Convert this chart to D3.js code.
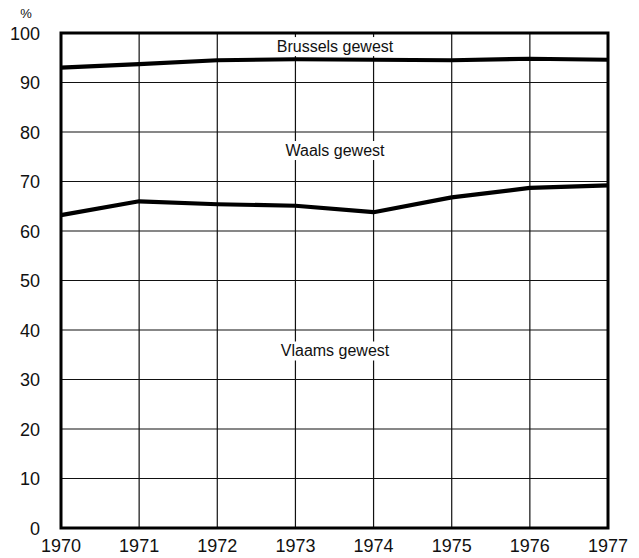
<!DOCTYPE html>
<html><head><meta charset="utf-8">
<script src="https://cdn.jsdelivr.net/npm/d3@7"></script>
<style>body{margin:0;background:#fff}svg{display:block}text{font-family:"Liberation Sans",Arial,sans-serif;fill:#111}</style>
</head><body><svg id="c" width="639" height="558"></svg>
<script>
const years = [1970,1971,1972,1973,1974,1975,1976,1977];
const brussels = [93.0,93.7,94.5,94.7,94.6,94.5,94.8,94.6];
const waals = [63.2,66.0,65.4,65.1,63.8,66.8,68.7,69.2];
const yTicks = [0,10,20,30,40,50,60,70,80,90,100];
const regionLabels = [{name:"Brussels gewest", v:97.0},{name:"Waals gewest", v:76.0},{name:"Vlaams gewest", v:35.5}];

const svg = d3.select("#c");
const x = d3.scaleLinear().domain([1970,1977]).range([61,608]);
const y = d3.scaleLinear().domain([0,100]).range([528,33]);

// grid
svg.append("g").selectAll("line").data(years).join("line")
  .attr("x1",d=>x(d)).attr("x2",d=>x(d)).attr("y1",y(100)).attr("y2",y(0))
  .attr("stroke","#111").attr("stroke-width",1.2);
svg.append("g").selectAll("line").data(yTicks).join("line")
  .attr("y1",d=>y(d)).attr("y2",d=>y(d)).attr("x1",x(1970)).attr("x2",x(1977))
  .attr("stroke","#111").attr("stroke-width",1.2);

// labels with white background
const lab = svg.append("g").selectAll("g").data(regionLabels).join("g");
lab.each(function(d){
  const g = d3.select(this);
  const t = g.append("text").attr("x",335).attr("y",y(d.v)).attr("text-anchor","middle")
    .attr("dominant-baseline","middle").attr("font-size",16).text(d.name);
  const b = t.node().getBBox();
  g.insert("rect","text").attr("x",b.x-4).attr("y",b.y-1).attr("width",b.width+8).attr("height",b.height+2).attr("fill","#fff");
});

// lines
const line = d3.line().x((d,i)=>x(years[i])).y(d=>y(d));
[brussels,waals].forEach(s=>{
  svg.append("path").datum(s).attr("d",line).attr("fill","none").attr("stroke","#000")
    .attr("stroke-width",4.2).attr("stroke-linejoin","round");
});

// frame
svg.append("rect").attr("x",x(1970)).attr("y",y(100)).attr("width",x(1977)-x(1970)).attr("height",y(0)-y(100))
  .attr("fill","none").attr("stroke","#000").attr("stroke-width",3);

// axis labels
svg.append("g").selectAll("text").data(yTicks).join("text")
  .attr("x",40).attr("y",d=>y(d)+2).attr("text-anchor","end").attr("dominant-baseline","middle")
  .attr("font-size",18).text(d=>d);
svg.append("g").selectAll("text").data(years).join("text")
  .attr("x",d=>x(d)).attr("y",552).attr("text-anchor","middle")
  .attr("font-size",18).text(d=>d);
svg.append("text").attr("x",26).attr("y",18).attr("text-anchor","middle").attr("font-size",13).text("%");
</script></body></html>
